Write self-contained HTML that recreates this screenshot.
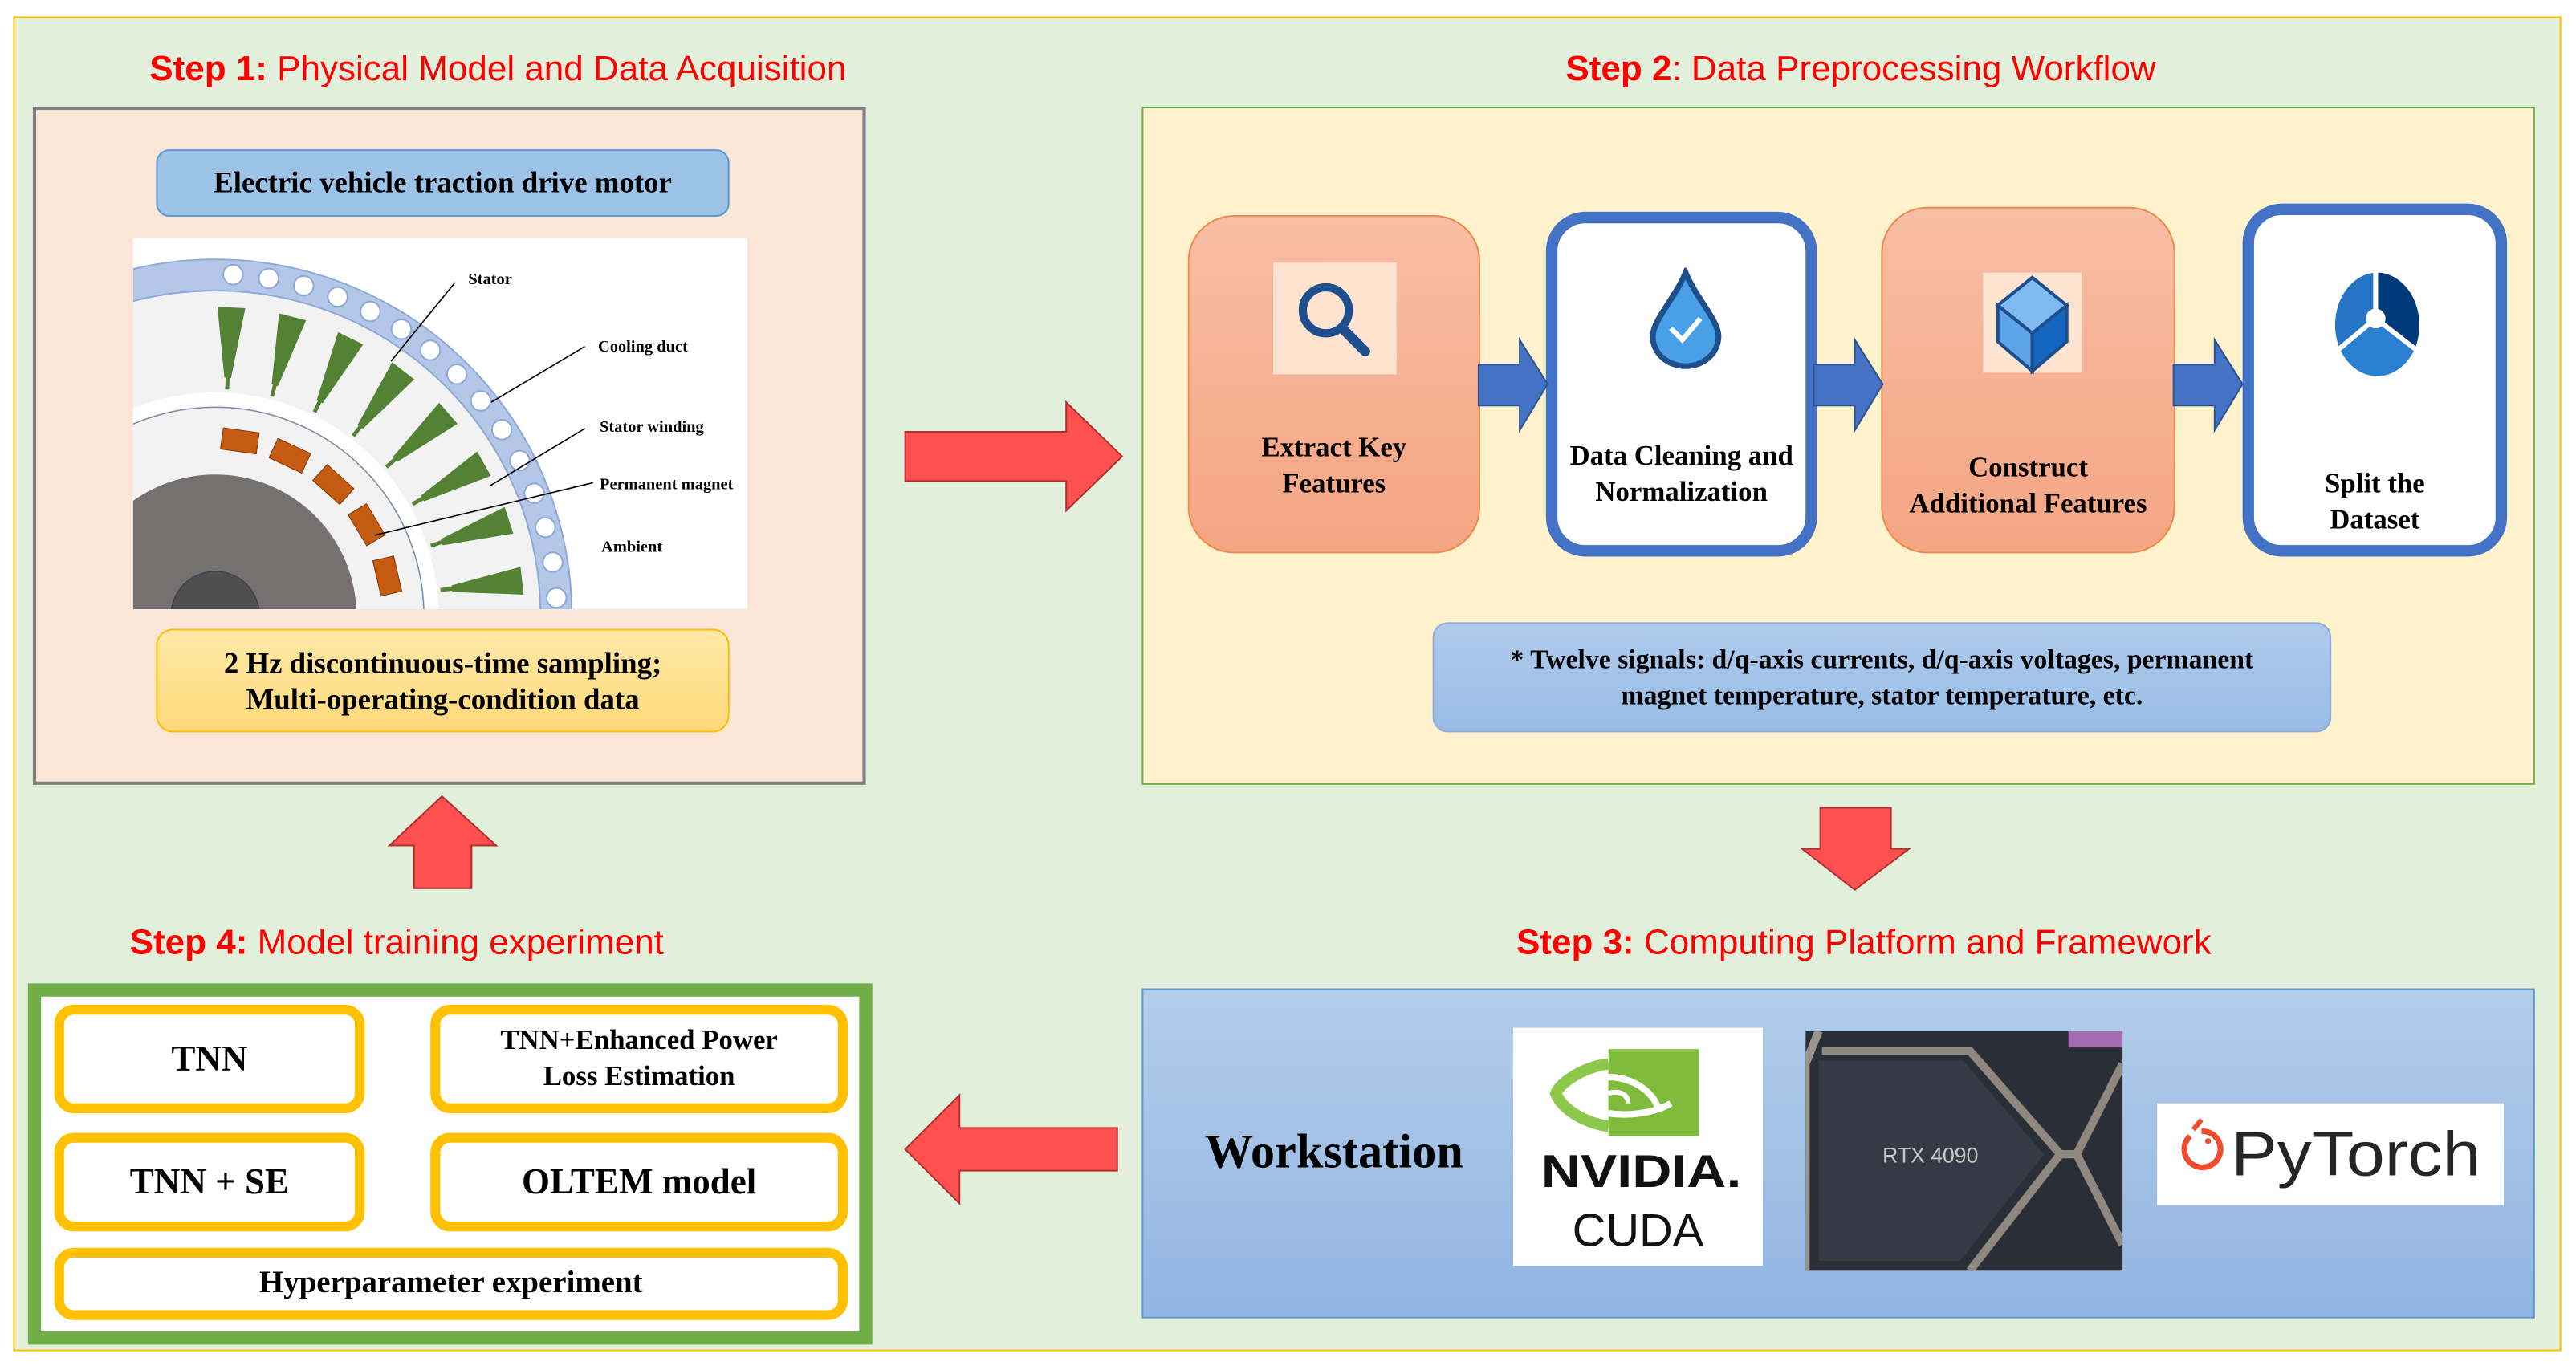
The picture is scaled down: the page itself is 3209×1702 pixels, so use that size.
<!DOCTYPE html>
<html><head><meta charset="utf-8">
<style>
html,body{margin:0;padding:0;background:#fff;}
body{width:3209px;height:1702px;overflow:hidden;position:relative;}
#s{position:absolute;left:0;top:0;width:1568px;height:832px;transform-origin:0 0;transform:scale(2.0466,2.0457);}
.a{position:absolute;box-sizing:border-box;}
.t{font-family:"Liberation Sans",sans-serif;color:#ff0000;font-size:21.5px;white-space:nowrap;text-align:center;}
.t b{font-weight:bold;}
.sf{font-family:"Liberation Serif",serif;font-weight:bold;color:#000;text-align:center;display:flex;align-items:center;justify-content:center;}
.card{border-radius:28px;}
.sal{background:linear-gradient(#f7bea6,#f4a582);border:1.5px solid #f08a4b;}
.wc{background:#fff;border:7px solid #4472c4;border-radius:24px;}
.yb{border:6px solid #ffc000;border-radius:12px;background:#fff;font-size:22px;}
</style></head><body>
<div id="s">
<div class="a" style="left:8px;top:10px;width:1551px;height:813px;background:#e2efda;border:1.5px solid #ffc000;"></div>

<!-- Step 1 -->
<div class="a t" style="left:91px;top:30px;width:430px;text-align:left;"><b>Step 1:</b> Physical Model and Data Acquisition</div>
<div class="a" style="left:20px;top:65px;width:507px;height:413px;background:#fbe5d6;border:2px solid #808080;"></div>
<div class="a sf" style="left:95px;top:91px;width:349px;height:41px;background:#9dc3e6;border:1.5px solid #5b9bd5;border-radius:8px;font-size:18px;">Electric vehicle traction drive motor</div>
<div class="a" style="left:81px;top:145px;width:374px;height:226px;background:#fff;overflow:hidden;">
<svg width="374" height="226" viewBox="0 0 374 226">
<circle cx="50" cy="230" r="217" fill="#b4c7e7" stroke="#8ea9db" stroke-width="1"/>
<circle cx="50" cy="230" r="198" fill="#f2f2f2" stroke="#8ea9db" stroke-width="1"/>
<g fill="#fff" stroke="#8ea9db" stroke-width="1">
<circle cx="0" cy="-208" r="6" transform="translate(50,230) rotate(3)"/>
<circle cx="0" cy="-208" r="6" transform="translate(50,230) rotate(9)"/>
<circle cx="0" cy="-208" r="6" transform="translate(50,230) rotate(15)"/>
<circle cx="0" cy="-208" r="6" transform="translate(50,230) rotate(21)"/>
<circle cx="0" cy="-208" r="6" transform="translate(50,230) rotate(27)"/>
<circle cx="0" cy="-208" r="6" transform="translate(50,230) rotate(33)"/>
<circle cx="0" cy="-208" r="6" transform="translate(50,230) rotate(39)"/>
<circle cx="0" cy="-208" r="6" transform="translate(50,230) rotate(45)"/>
<circle cx="0" cy="-208" r="6" transform="translate(50,230) rotate(51)"/>
<circle cx="0" cy="-208" r="6" transform="translate(50,230) rotate(57)"/>
<circle cx="0" cy="-208" r="6" transform="translate(50,230) rotate(63)"/>
<circle cx="0" cy="-208" r="6" transform="translate(50,230) rotate(69)"/>
<circle cx="0" cy="-208" r="6" transform="translate(50,230) rotate(75)"/>
<circle cx="0" cy="-208" r="6" transform="translate(50,230) rotate(81)"/>
<circle cx="0" cy="-208" r="6" transform="translate(50,230) rotate(87)"/>
</g>
<circle cx="50" cy="230" r="136" fill="#fff"/>
<circle cx="50" cy="230" r="127" fill="#f2f2f2" stroke="#7f8fa6" stroke-width="0.8"/>
<g fill="#548235">
<polygon points="-8.5,-188 8.5,-188 2,-145 1.2,-145 1.2,-138 -1.2,-138 -1.2,-145 -2,-145" transform="translate(50,230) rotate(3)"/>
<polygon points="-8.5,-188 8.5,-188 2,-145 1.2,-145 1.2,-138 -1.2,-138 -1.2,-145 -2,-145" transform="translate(50,230) rotate(14.5)"/>
<polygon points="-8.5,-188 8.5,-188 2,-145 1.2,-145 1.2,-138 -1.2,-138 -1.2,-145 -2,-145" transform="translate(50,230) rotate(26)"/>
<polygon points="-8.5,-188 8.5,-188 2,-145 1.2,-145 1.2,-138 -1.2,-138 -1.2,-145 -2,-145" transform="translate(50,230) rotate(37.5)"/>
<polygon points="-8.5,-188 8.5,-188 2,-145 1.2,-145 1.2,-138 -1.2,-138 -1.2,-145 -2,-145" transform="translate(50,230) rotate(49)"/>
<polygon points="-8.5,-188 8.5,-188 2,-145 1.2,-145 1.2,-138 -1.2,-138 -1.2,-145 -2,-145" transform="translate(50,230) rotate(60.5)"/>
<polygon points="-8.5,-188 8.5,-188 2,-145 1.2,-145 1.2,-138 -1.2,-138 -1.2,-145 -2,-145" transform="translate(50,230) rotate(72)"/>
<polygon points="-8.5,-188 8.5,-188 2,-145 1.2,-145 1.2,-138 -1.2,-138 -1.2,-145 -2,-145" transform="translate(50,230) rotate(83.5)"/>
</g>
<g fill="#c55a11" stroke="#843c0c" stroke-width="0.5">
<rect x="-11" y="-114" width="22" height="13" transform="translate(50,230) rotate(8)"/>
<rect x="-11" y="-114" width="22" height="13" transform="translate(50,230) rotate(25)"/>
<rect x="-11" y="-114" width="22" height="13" transform="translate(50,230) rotate(42)"/>
<rect x="-11" y="-114" width="22" height="13" transform="translate(50,230) rotate(59)"/>
<rect x="-11" y="-114" width="22" height="13" transform="translate(50,230) rotate(77)"/>
</g>
<circle cx="50" cy="230" r="86" fill="#767171"/>
<circle cx="50" cy="230" r="27" fill="#4f4f4f" stroke="#3a3a50" stroke-width="0.6"/>
<g stroke="#000" stroke-width="0.8">
<line x1="196" y1="27" x2="157" y2="75"/>
<line x1="275" y1="66" x2="218" y2="100"/>
<line x1="275" y1="116" x2="217" y2="151"/>
<line x1="280" y1="149" x2="147" y2="181"/>
</g>
<g font-family="Liberation Serif,serif" font-weight="bold" font-size="10" fill="#000">
<text x="204" y="28">Stator</text>
<text x="283" y="69">Cooling duct</text>
<text x="284" y="118">Stator winding</text>
<text x="284" y="153">Permanent magnet</text>
<text x="285" y="191">Ambient</text>
</g>
</svg></div>
<div class="a sf" style="left:95px;top:383px;width:349px;height:63px;background:linear-gradient(#ffe9a8,#ffd97a);border:1.5px solid #ffc000;border-radius:10px;font-size:18px;line-height:22px;">2 Hz discontinuous-time sampling;<br>Multi-operating-condition data</div>

<svg class="a" style="left:549px;top:243px;" width="136" height="70"><polygon points="2,20 100,20 100,2 134,35 100,68 100,50 2,50" fill="#ff5050" stroke="#b03030" stroke-width="1"/></svg>

<!-- Step 2 -->
<div class="a t" style="left:953px;top:30px;width:365px;text-align:left;"><b>Step 2</b>: Data Preprocessing Workflow</div>
<div class="a" style="left:695px;top:65px;width:848px;height:413px;background:#fff2cc;border:1.5px solid #70ad47;"></div>
<div class="a card sal" style="left:723px;top:131px;width:178px;height:206px;"></div>
<div class="a" style="left:775px;top:160px;width:75px;height:68px;background:#fde4d0;"></div>
<svg class="a" style="left:785px;top:168px;" width="56" height="52"><circle cx="22" cy="21" r="14" fill="none" stroke="#1f4e8c" stroke-width="5"/><line x1="32" y1="32" x2="46" y2="46" stroke="#1f4e8c" stroke-width="6" stroke-linecap="round"/></svg>
<div class="a sf" style="left:723px;top:260px;width:178px;height:48px;font-size:17px;line-height:22px;">Extract Key<br>Features</div>

<div class="a wc" style="left:941px;top:129px;width:165px;height:210px;"></div>
<svg class="a" style="left:1000px;top:163px;" width="52" height="62"><path d="M26 3 C32 18 46 32 46 42 A20 18 0 0 1 6 42 C6 32 20 18 26 3Z" fill="#4aa0e6" stroke="#1f4e8c" stroke-width="3.5"/><polyline points="17,37 24,44 35,31" fill="none" stroke="#fff" stroke-width="3"/></svg>
<div class="a sf" style="left:937px;top:265px;width:173px;height:48px;font-size:17px;line-height:22px;white-space:nowrap;">Data Cleaning and<br>Normalization</div>

<div class="a card sal" style="left:1145px;top:126px;width:179px;height:211px;"></div>
<div class="a" style="left:1207px;top:166px;width:60px;height:61px;background:#fde4d0;"></div>
<svg class="a" style="left:1210px;top:166px;" width="56" height="62"><polygon points="27,3 48,20 27,37 6,20" fill="#7fbbf0" stroke="#1f4e8c" stroke-width="2"/><polygon points="6,20 27,37 27,60 6,42" fill="#5ea4e8" stroke="#1f4e8c" stroke-width="2"/><polygon points="48,20 27,37 27,60 48,42" fill="#1466c0" stroke="#1f4e8c" stroke-width="2"/></svg>
<div class="a sf" style="left:1140px;top:272px;width:189px;height:48px;font-size:17px;line-height:22px;white-space:nowrap;">Construct<br>Additional Features</div>

<div class="a wc" style="left:1365px;top:124px;width:161px;height:215px;"></div>
<svg class="a" style="left:1420px;top:164px;" width="56" height="66"><path d="M26 30 L26 2 A26 32 0 0 1 50 48 Z" fill="#003a78"/><path d="M26 30 L50 48 A26 32 0 0 1 4 48 Z" fill="#2b7fd0"/><path d="M26 30 L4 48 A26 32 0 0 1 26 2 Z" fill="#2674c6"/><circle cx="26" cy="30" r="6" fill="#fff"/><g stroke="#fff" stroke-width="3"><line x1="26" y1="30" x2="26" y2="0"/><line x1="26" y1="30" x2="52" y2="50"/><line x1="26" y1="30" x2="2" y2="50"/></g></svg>
<div class="a sf" style="left:1365px;top:282px;width:161px;height:48px;font-size:17px;line-height:22px;">Split the<br>Dataset</div>

<svg class="a" style="left:899px;top:205px;" width="46" height="60"><polygon points="1,17 26,17 26,2 43,29 26,57 26,42 1,42" fill="#4472c4" stroke="#2f528f" stroke-width="1"/></svg>
<svg class="a" style="left:1103px;top:205px;" width="46" height="60"><polygon points="1,17 26,17 26,2 43,29 26,57 26,42 1,42" fill="#4472c4" stroke="#2f528f" stroke-width="1"/></svg>
<svg class="a" style="left:1322px;top:205px;" width="46" height="60"><polygon points="1,17 26,17 26,2 43,29 26,57 26,42 1,42" fill="#4472c4" stroke="#2f528f" stroke-width="1"/></svg>

<div class="a sf" style="left:872px;top:379px;width:547px;height:67px;background:linear-gradient(#afcbeb,#98bce6);border:1.5px solid #8faadc;border-radius:9px;font-size:16.5px;line-height:22px;">* Twelve signals: d/q-axis currents, d/q-axis voltages, permanent<br>magnet temperature, stator temperature, etc.</div>

<svg class="a" style="left:1095px;top:490px;" width="70" height="54"><polygon points="13,2 56,2 56,27 67,27 34,52 2,27 13,27" fill="#ff5050" stroke="#b03030" stroke-width="1"/></svg>

<!-- Step 3 -->
<div class="a t" style="left:923px;top:562px;width:436px;text-align:left;"><b>Step 3:</b> Computing Platform and Framework</div>
<div class="a" style="left:695px;top:602px;width:848px;height:201px;background:linear-gradient(#b3cde9,#91b5e2);border:1.5px solid #5b9bd5;"></div>
<div class="a sf" style="left:722px;top:680px;width:180px;height:44px;font-size:29.5px;">Workstation</div>
<div class="a" style="left:921px;top:626px;width:152px;height:145px;background:#fff;"></div>
<svg class="a" style="left:921px;top:626px;" width="152" height="145">
<rect x="58" y="13" width="55" height="53" fill="#80bc3c"/>
<path d="M58 22 C42 24 28 34 26 40 C30 50 44 58 58 60" fill="none" stroke="#8cc84b" stroke-width="7"/>
<path d="M58 30 C72 30 84 38 88 48" fill="none" stroke="#fff" stroke-width="4"/>
<path d="M58 52 C70 54 86 52 96 46" fill="none" stroke="#fff" stroke-width="4"/>
<path d="M58 40 C64 38 70 40 70 46" fill="none" stroke="#fff" stroke-width="3"/>
<text x="78" y="97" font-family="Liberation Sans,sans-serif" font-weight="bold" font-size="28" text-anchor="middle" fill="#111" textLength="122" lengthAdjust="spacingAndGlyphs">NVIDIA.</text>
<text x="76" y="133" font-family="Liberation Sans,sans-serif" font-size="28" text-anchor="middle" fill="#111" textLength="80" lengthAdjust="spacingAndGlyphs">CUDA</text>
</svg>
<svg class="a" style="left:1099px;top:628px;" width="193" height="146">
<rect width="193" height="146" fill="#2a2e36"/>
<path d="M8 0 L0 20 L0 146" fill="none" stroke="#9a948c" stroke-width="5"/>
<path d="M10 12 L100 12 L155 75 L100 146" fill="none" stroke="#8e8880" stroke-width="5"/>
<path d="M8 18 L96 18 L145 75 L94 140 L8 140 Z" fill="#353a44"/>
<path d="M193 20 L165 75 L193 130" fill="none" stroke="#8e8880" stroke-width="5"/>
<path d="M155 75 L165 75" stroke="#8e8880" stroke-width="5"/>
<rect x="160" y="0" width="33" height="10" fill="#a36bb0"/>
<text x="76" y="80" font-family="Liberation Sans,sans-serif" font-size="13" fill="#c8c8c8" text-anchor="middle">RTX 4090</text>
</svg>
<div class="a" style="left:1313px;top:672px;width:211px;height:62px;background:#fff;"></div>
<svg class="a" style="left:1313px;top:672px;" width="211" height="62">
<path d="M27 17 A11 11 0 1 1 20 20" fill="none" stroke="#ee4c2c" stroke-width="3.5"/>
<line x1="27" y1="10" x2="22" y2="16" stroke="#ee4c2c" stroke-width="3"/>
<circle cx="31" cy="23" r="1.8" fill="#ee4c2c"/>
<text x="45" y="44" font-family="Liberation Sans,sans-serif" font-size="38" fill="#252525" textLength="152" lengthAdjust="spacingAndGlyphs">PyTorch</text>
</svg>

<svg class="a" style="left:549px;top:665px;" width="134" height="70"><polygon points="2,35 35,2 35,22 131,22 131,48 35,48 35,68" fill="#ff5050" stroke="#b03030" stroke-width="1"/></svg>

<svg class="a" style="left:235px;top:483px;" width="70" height="60"><polygon points="34,2 67,32 52,32 52,58 17,58 17,32 2,32" fill="#ff5050" stroke="#b03030" stroke-width="1"/></svg>

<!-- Step 4 -->
<div class="a t" style="left:79px;top:562px;width:340px;text-align:left;"><b>Step 4:</b> Model training experiment</div>
<div class="a" style="left:17px;top:599px;width:514px;height:220px;background:#fff;border:8px solid #70ad47;"></div>
<div class="a sf yb" style="left:33px;top:612px;width:189px;height:66px;">TNN</div>
<div class="a sf yb" style="left:262px;top:612px;width:254px;height:66px;font-size:17px;line-height:22px;">TNN+Enhanced Power<br>Loss Estimation</div>
<div class="a sf yb" style="left:33px;top:690px;width:189px;height:60px;">TNN + SE</div>
<div class="a sf yb" style="left:262px;top:690px;width:254px;height:60px;">OLTEM model</div>
<div class="a sf yb" style="left:33px;top:760px;width:483px;height:44px;font-size:19px;">Hyperparameter experiment</div>
</div>
</body></html>
